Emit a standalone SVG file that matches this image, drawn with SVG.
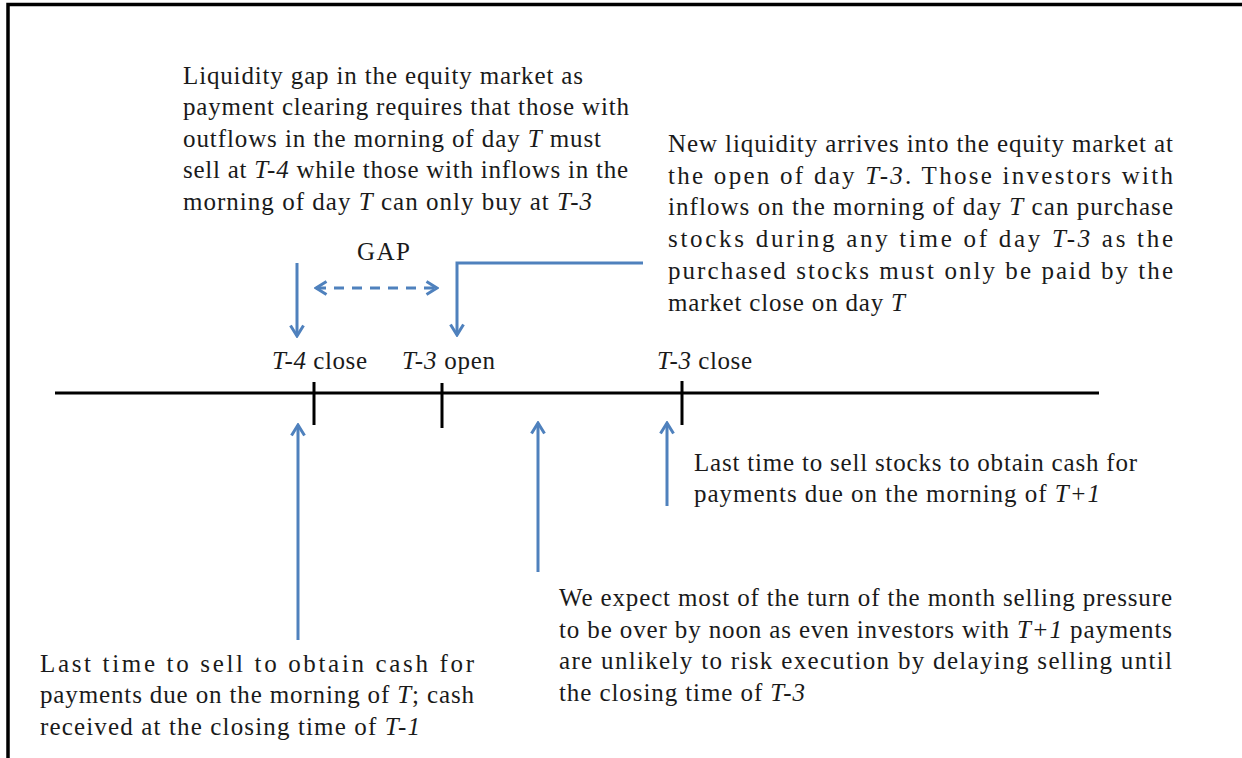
<svg xmlns="http://www.w3.org/2000/svg" width="1242" height="758" viewBox="0 0 1242 758">
<style>
text{font-family:"Liberation Serif","Times New Roman",serif;font-size:25px;fill:#1a1a1a}
.i{font-style:italic}
.ax{stroke:#000;stroke-width:3;fill:none}
.ar{stroke:#4F81BD;stroke-width:3;fill:none}
.ds{stroke-dasharray:10 8}
</style>
<defs>
<marker id="ah" viewBox="0 0 14 16" refX="12" refY="8" markerWidth="14" markerHeight="16" markerUnits="userSpaceOnUse" orient="auto-start-reverse">
<path d="M1.5,1.5 L12,8 L1.5,14.5" fill="none" stroke="#4F81BD" stroke-width="3"/>
</marker>
</defs>
<rect width="1242" height="758" fill="#fff"/>
<g id="frame">
<path class="ax" d="M8,758 V4.5 H1242" style="stroke-width:3.5"/>
</g>
<g id="timeline">
<line class="ax" x1="55" y1="393" x2="1099" y2="393"/>
<line class="ax" x1="314" y1="382" x2="314" y2="425"/>
<line class="ax" x1="442" y1="383" x2="442" y2="428"/>
<line class="ax" x1="682" y1="381" x2="682" y2="425"/>
</g>
<g id="connectors">
<line class="ar" x1="297" y1="263" x2="297" y2="336" marker-end="url(#ah)"/>
<line class="ar ds" x1="316" y1="288" x2="437" y2="288" marker-start="url(#ah)" marker-end="url(#ah)"/>
<path class="ar" d="M643,263 H457 V335" marker-end="url(#ah)"/>
<line class="ar" x1="298" y1="640" x2="298" y2="425" marker-end="url(#ah)"/>
<line class="ar" x1="538" y1="572" x2="538" y2="423" marker-end="url(#ah)"/>
<line class="ar" x1="667" y1="506" x2="667" y2="423" marker-end="url(#ah)"/>
</g>
<g id="labels">
<text x="272" y="369" textLength="95" lengthAdjust="spacing"><tspan class="i">T-4</tspan> close</text>
<text x="402" y="369" textLength="93" lengthAdjust="spacing"><tspan class="i">T-3</tspan> open</text>
<text x="657" y="369" textLength="95" lengthAdjust="spacing"><tspan class="i">T-3</tspan> close</text>
<text x="357" y="260" textLength="53" lengthAdjust="spacing">GAP</text>
</g>
<g id="note-gap">
<text x="183" y="84" textLength="400" lengthAdjust="spacing">Liquidity gap in the equity market as</text>
<text x="183" y="115" textLength="446" lengthAdjust="spacing">payment clearing requires that those with</text>
<text x="183" y="147" textLength="418" lengthAdjust="spacing">outflows in the morning of day <tspan class="i">T</tspan> must</text>
<text x="183" y="178" textLength="445" lengthAdjust="spacing">sell at <tspan class="i">T-4</tspan> while those with inflows in the</text>
<text x="183" y="210" textLength="409" lengthAdjust="spacing">morning of day <tspan class="i">T</tspan> can only buy at <tspan class="i">T-3</tspan></text>
</g>
<g id="note-open">
<text x="668" y="152" textLength="505" lengthAdjust="spacing">New liquidity arrives into the equity market at</text>
<text x="668" y="184" textLength="505" lengthAdjust="spacing">the open of day <tspan class="i">T-3</tspan>. Those investors with</text>
<text x="668" y="215" textLength="505" lengthAdjust="spacing">inflows on the morning of day <tspan class="i">T</tspan> can purchase</text>
<text x="668" y="247" textLength="505" lengthAdjust="spacing">stocks during any time of day <tspan class="i">T-3</tspan> as the</text>
<text x="668" y="279" textLength="505" lengthAdjust="spacing">purchased stocks must only be paid by the</text>
<text x="668" y="311" textLength="237" lengthAdjust="spacing">market close on day <tspan class="i">T</tspan></text>
</g>
<g id="note-t1">
<text x="694" y="471" textLength="443" lengthAdjust="spacing">Last time to sell stocks to obtain cash for</text>
<text x="694" y="502" textLength="406" lengthAdjust="spacing">payments due on the morning of <tspan class="i">T+1</tspan></text>
</g>
<g id="note-noon">
<text x="559" y="606" textLength="613" lengthAdjust="spacing">We expect most of the turn of the month selling pressure</text>
<text x="559" y="638" textLength="613" lengthAdjust="spacing">to be over by noon as even investors with <tspan class="i">T+1</tspan> payments</text>
<text x="559" y="669" textLength="613" lengthAdjust="spacing">are unlikely to risk execution by delaying selling until</text>
<text x="559" y="701" textLength="246" lengthAdjust="spacing">the closing time of <tspan class="i">T-3</tspan></text>
</g>
<g id="note-t">
<text x="40" y="672" textLength="434" lengthAdjust="spacing">Last time to sell to obtain cash for</text>
<text x="40" y="703" textLength="434" lengthAdjust="spacing">payments due on the morning of <tspan class="i">T</tspan>; cash</text>
<text x="40" y="735" textLength="380" lengthAdjust="spacing">received at the closing time of <tspan class="i">T-1</tspan></text>
</g>
</svg>
